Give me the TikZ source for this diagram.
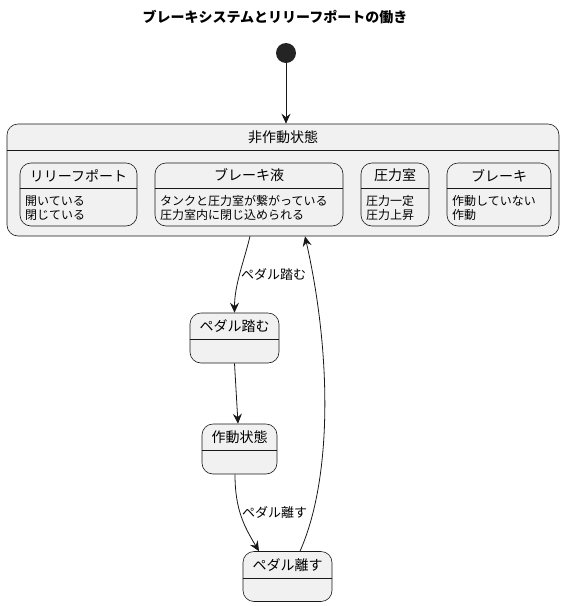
\documentclass[tikz,border=0pt]{standalone}
\usepackage{fontspec}
\setmainfont{Noto Sans CJK JP}
\usepackage{tikz}
\usetikzlibrary{arrows.meta,positioning,calc}
\definecolor{statefill}{HTML}{F1F1F1}
\definecolor{linec}{HTML}{181818}

\begin{document}
\begin{tikzpicture}
	% Styles
	[
	x=1pt, y=-1pt,
	state/.style={draw=linec,fill=statefill,line width=0.6pt,rounded corners=11pt,inner sep=0pt},
	stitle/.style={font=\fontsize{14}{16}\selectfont,inner sep=0pt},
	sbody/.style={font=\fontsize{12}{14}\selectfont,align=left,anchor=west,inner sep=0pt},
	tlabel/.style={font=\fontsize{13}{15}\selectfont,anchor=west,inner sep=0pt},
	trans/.style={draw=linec,line width=0.8pt,-{Stealth[length=10pt,width=9pt,inset=3.5pt]}},
	]

	\useasboundingbox (0,0) rectangle (566,606);

	% Title
	\node at (275,17) (title) [font=\bfseries\fontsize{14}{16}\selectfont] {ブレーキシステムとリリーフポートの働き};

	% Nodes
	\node at (286,53)	(init)	[circle,fill=linec!95,minimum size=20pt,inner sep=0pt] {};

	\node at (283,180)	(idle)	[state,minimum width=552pt,minimum height=112pt] {};
	\draw[linec,line width=0.6pt] (idle.west |- 0,150) -- (idle.east |- 0,150);
	\node at (283,137)	(idle title)	[stitle] {非作動状態};

	\node at (78.5,194.5)	(relief)	[state,minimum width=117pt,minimum height=63pt] {};
	\node at (249,194.5)	(fluid)	[state,minimum width=188pt,minimum height=63pt] {};
	\node at (395,194.5)	(chamber)	[state,minimum width=68pt,minimum height=63pt] {};
	\node at (499,194.5)	(brake)	[state,minimum width=104pt,minimum height=63pt] {};
	\foreach \s in {relief,fluid,chamber,brake}
		\draw[linec,line width=0.6pt] (\s.west |- 0,188) -- (\s.east |- 0,188);

	\node at (relief.north |- 0,175.5)	(relief title)	[stitle] {リリーフポート};
	\node at (fluid.north |- 0,175.5)	(fluid title)	[stitle] {ブレーキ液};
	\node at (chamber.north |- 0,175.5)	(chamber title)	[stitle] {圧力室};
	\node at (brake.north |- 0,175.5)	(brake title)	[stitle] {ブレーキ};

	\node at (25,208)	(relief body)	[sbody] {開いている\\閉じている};
	\node at (160,208)	(fluid body)	[sbody] {タンクと圧力室が繋がっている\\圧力室内に閉じ込められる};
	\node at (366,208)	(chamber body)	[sbody] {圧力一定\\圧力上昇};
	\node at (452,208)	(brake body)	[sbody] {作動していない\\作動};

	\node at (234.5,338)	(press)	[state,minimum width=89pt,minimum height=50pt] {};
	\node at (239.5,449)	(active)	[state,minimum width=75pt,minimum height=50pt] {};
	\node at (287.5,576.5)	(release)	[state,minimum width=89pt,minimum height=50pt] {};
	\draw[linec,line width=0.6pt] (press.west |- 0,339) -- (press.east |- 0,339);
	\draw[linec,line width=0.6pt] (active.west |- 0,450) -- (active.east |- 0,450);
	\draw[linec,line width=0.6pt] (release.west |- 0,578) -- (release.east |- 0,578);
	\node at (press.north |- 0,326)	(press title)	[stitle] {ペダル踏む};
	\node at (active.north |- 0,437)	(active title)	[stitle] {作動状態};
	\node at (release.north |- 0,565)	(release title)	[stitle] {ペダル離す};

	% Connections
	\draw[trans] (init) -- (init |- idle.north);
	\draw[trans] ([xshift=-33pt]idle.south) .. controls +(-6,25) and +(0,-28) .. (press.north);
	\node at (241,275)	(press label)	[tlabel] {ペダル踏む};
	\draw[trans] (press.south) -- ([xshift=-1.5pt]active.north);
	\draw[trans] ([xshift=-4.5pt]active.south) .. controls +(0,35) and +(-15,-25) .. ([xshift=-28.5pt]release.north);
	\node at (242,513)	(release label)	[tlabel] {ペダル離す};
	\draw[trans] ([xshift=12.5pt]release.north) .. controls +(32,-72) and +(27,120) .. ([xshift=22pt]idle.south);

\end{tikzpicture}
\end{document}
